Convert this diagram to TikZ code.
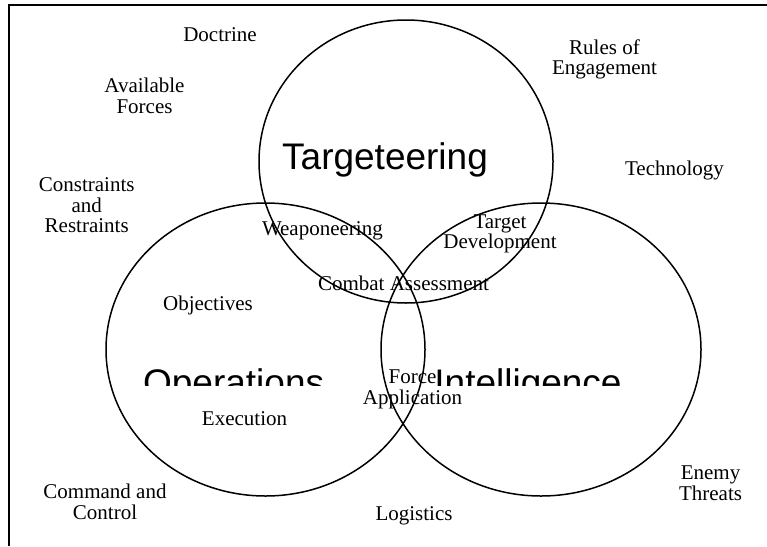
\documentclass[tikz,border=0pt]{standalone}
\usepackage{fontspec}
\setmainfont{Liberation Serif}
\newfontfamily\arialfont{Liberation Sans}
\usetikzlibrary{shapes.geometric}
\tikzset{
	ring/.style={draw, ellipse, line width=1.5pt, inner sep=0pt},
	lbl/.style={font=\fontsize{21}{20.5}\selectfont, align=center, inner sep=0pt, anchor=base},
	bigname/.style={font=\arialfont\fontsize{37}{40}\selectfont, inner sep=0pt, anchor=base}
}

\begin{document}
\begin{tikzpicture}[x=1pt,y=-1pt]
		\useasboundingbox (0,0) rectangle (767,546);
		\coordinate (frameBL) at (9,546);
		\coordinate (frameTL) at (9,5);
		\coordinate (frameTR) at (767,5);
		\draw[line width=2pt] (frameBL) -- (frameTL) -- (frameTR);
		%
		\node[ring, minimum width=294pt, minimum height=283pt] (targ) at (406,161.5) {};
		\node[ring, minimum width=319pt, minimum height=293pt] (ops) at (265.5,349.5) {};
		\node[ring, minimum width=320pt, minimum height=293pt] (intel) at (541,349.5) {};
		%
		\node[bigname] (targT) at (385,169) {Targeteering};
		\begin{scope}
		\clip (0,0) rectangle (767,385);
		\node[bigname] (opsT) at (233.6,395) {Operations};
		\node[bigname] (intelT) at (528,395) {Intelligence};
		\end{scope}
		%
		% multi-line labels sit on the baseline of their last line
		\node[lbl] (doctrine) at (220,41) {Doctrine};
		\node[lbl] (forces) at (144.5,113) {Available\\Forces};
		\node[lbl] (constr) at (86.7,232.7) {Constraints\\and\\Restraints};
		\node[lbl] (roe) at (604.5,74.5) {Rules of\\Engagement};
		\node[lbl] (tech) at (674.5,175) {Technology};
		\node[lbl] (weap) at (322.4,235) {Weaponeering};
		\node[lbl] (tdev) at (500,248.5) {Target\\Development};
		\node[lbl] (cba) at (403.5,290) {Combat Assessment};
		\node[lbl] (obj) at (208,310) {Objectives};
		\node[lbl] (forceapp) at (412.5,404.3) {Force\\Application};
		\node[lbl] (exec) at (244.5,425) {Execution};
		\node[lbl] (ctrl) at (105,519) {Command and\\Control};
		\node[lbl] (logi) at (414,520) {Logistics};
		\node[lbl] (threats) at (710.5,500) {Enemy\\Threats};
\end{tikzpicture}
\end{document}
